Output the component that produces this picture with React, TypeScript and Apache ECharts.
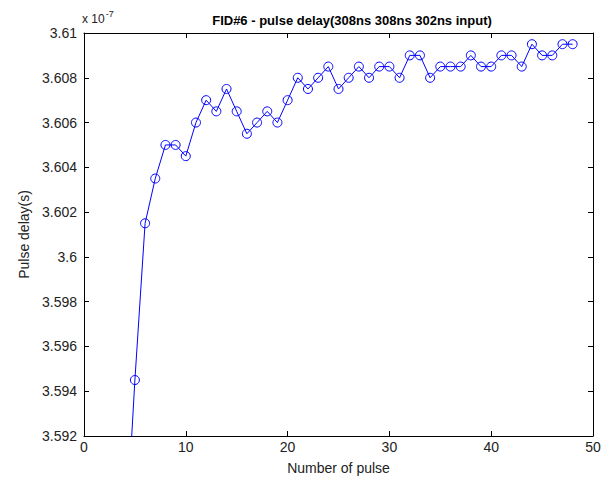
import React, { useEffect, useRef } from "react";
import * as echarts from "echarts";

const pulseNumbers = [4, 5, 6, 7, 8, 9, 10, 11, 12, 13, 14, 15, 16, 17, 18, 19, 20, 21, 22, 23, 24, 25, 26, 27, 28, 29, 30, 31, 32, 33, 34, 35, 36, 37, 38, 39, 40, 41, 42, 43, 44, 45, 46, 47, 48];
const pulseDelay = [3.5865, 3.5945, 3.6015, 3.6035, 3.605, 3.605, 3.6045, 3.606, 3.607, 3.6065, 3.6075, 3.6065, 3.6055, 3.606, 3.6065, 3.606, 3.607, 3.608, 3.6075, 3.608, 3.6085, 3.6075, 3.608, 3.6085, 3.608, 3.6085, 3.6085, 3.608, 3.609, 3.609, 3.608, 3.6085, 3.6085, 3.6085, 3.609, 3.6085, 3.6085, 3.609, 3.609, 3.6085, 3.6095, 3.609, 3.609, 3.6095, 3.6095];

const titleText = "FID#6 - pulse delay(308ns 308ns 302ns input)";
const xName = "Number of pulse";
const yName = "Pulse delay(s)";

export default function App() {
  const ref = useRef<HTMLDivElement>(null);
  useEffect(() => {
    document.body.style.margin = "0";
    const chart = echarts.init(ref.current!, null, { renderer: "svg" });
    const font = "'Liberation Sans', Arial, sans-serif";
    const axisCommon = {
      axisLine: { show: true, onZero: false, lineStyle: { color: "#000", width: 1 } },
      axisTick: { show: true, inside: true, length: 5, lineStyle: { color: "#000" } },
      splitLine: { show: false },
    };
    chart.setOption({
      animation: false,
      backgroundColor: "#fff",
      textStyle: { fontFamily: font },
      title: {
        text: titleText,
        left: 347,
        textAlign: "center",
        top: 9,
        textStyle: { fontSize: 13, fontWeight: "bold", color: "#000", fontFamily: font },
      },
      grid: { left: 84, right: 18, top: 33, bottom: 44, containLabel: false },
      xAxis: [
        {
          type: "value",
          min: 0,
          max: 50,
          interval: 10,
          position: "bottom",
          name: xName,
          nameLocation: "middle",
          nameGap: 25,
          nameTextStyle: { fontSize: 14, color: "#222", fontFamily: font },
          axisLabel: { fontSize: 14, color: "#222", margin: 4, fontFamily: font },
          ...axisCommon,
        },
        {
          type: "value",
          min: 0,
          max: 50,
          interval: 10,
          position: "top",
          axisLabel: { show: false },
          ...axisCommon,
        },
      ],
      yAxis: [
        {
          type: "value",
          min: 3.592,
          max: 3.61,
          interval: 0.002,
          position: "left",
          name: yName,
          nameLocation: "middle",
          nameGap: 52,
          nameTextStyle: { fontSize: 14, color: "#222", fontFamily: font },
          axisLabel: {
            fontSize: 14,
            color: "#222",
            margin: 7,
            fontFamily: font,
            formatter: (v: number) => String(+v.toFixed(3)),
          },
          ...axisCommon,
        },
        {
          type: "value",
          min: 3.592,
          max: 3.61,
          interval: 0.002,
          position: "right",
          axisLabel: { show: false },
          ...axisCommon,
        },
      ],
      graphic: [
        {
          type: "text",
          left: 82,
          top: 9,
          style: {
            text: "{a|x 10}{b|-7}",
            rich: {
              a: { fontSize: 12, fill: "#222", fontFamily: font, padding: [6, 0, 0, 0] },
              b: { fontSize: 9, fill: "#222", fontFamily: font, padding: [0, 0, 4, 1] },
            },
          },
        },
      ],
      series: [
        {
          type: "line",
          data: pulseNumbers.map((x, i) => [x, pulseDelay[i]]),
          clip: true,
          symbol: "circle",
          symbolSize: 9,
          showAllSymbol: true,
          lineStyle: { color: "#0000ff", width: 1 },
          itemStyle: { color: "rgba(0,0,0,0)", borderColor: "#0000ff", borderWidth: 1 },
        },
      ],
    });
    return () => chart.dispose();
  }, []);
  return <div ref={ref} style={{ width: 611, height: 480 }} />;
}
